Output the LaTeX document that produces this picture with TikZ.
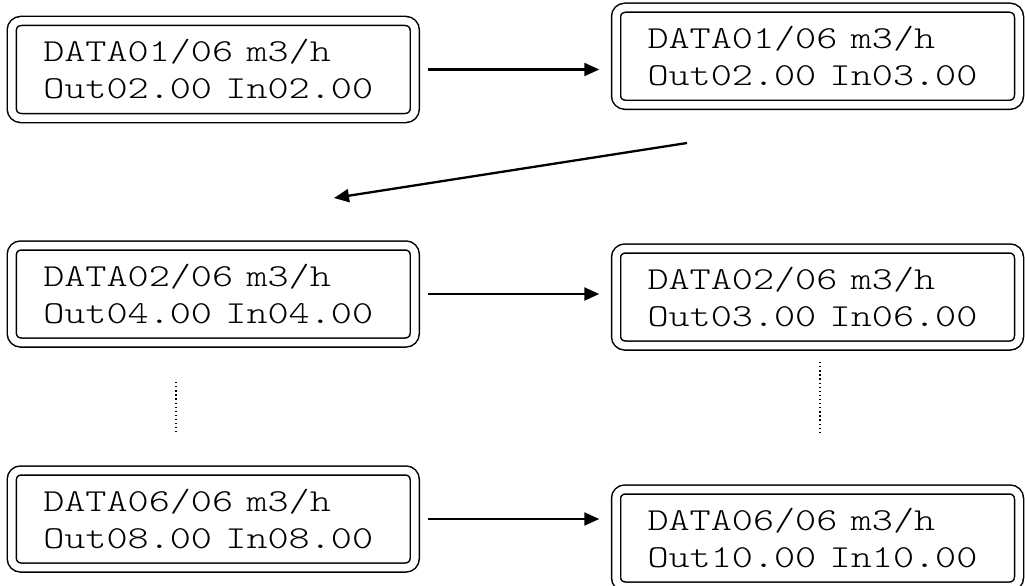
\documentclass[tikz,border=0pt]{standalone}
\usepackage{graphicx}
\usetikzlibrary{arrows.meta}
\newcommand{\lcdline}[1]{\scalebox{1.256}[1]{#1}}
\begin{document}
\begin{tikzpicture}[x=1pt,y=-1pt,
  lcd/.style={draw, line width=1.5pt, double, double distance=7.5pt, rounded corners=9pt,
    minimum height=97pt, text width=340pt, inner xsep=31.5pt, inner ysep=0pt, align=left,
    font=\ttfamily\fontseries{l}\fontsize{32pt}{37pt}\selectfont},
  flow/.style={line width=2.3pt, -{Triangle[length=15pt,width=13pt]}},
  dots/.style={line width=1.3pt, dash pattern=on 1.3pt off 2.8pt}]
\useasboundingbox (0,0) rectangle (1025,586);
\node[lcd] (b1) at (213.25,69.5) {\lcdline{DATA01/06 m3/h}\\\lcdline{Out02.00 In02.00}};
\node[lcd] (b2) at (817.5,56.25) {\lcdline{DATA01/06 m3/h}\\\lcdline{Out02.00 In03.00}};
\node[lcd] (b3) at (213.25,294) {\lcdline{DATA02/06 m3/h}\\\lcdline{Out04.00 In04.00}};
\node[lcd] (b4) at (817.5,297) {\lcdline{DATA02/06 m3/h}\\\lcdline{Out03.00 In06.00}};
\node[lcd] (b5) at (213.25,519) {\lcdline{DATA06/06 m3/h}\\\lcdline{Out08.00 In08.00}};
\node[lcd] (b6) at (817.5,538) {\lcdline{DATA06/06 m3/h}\\\lcdline{Out10.00 In10.00}};
\draw[flow, shorten <=12pt, shorten >=16pt] (b1.east) -- (b1.east -| b2.west);
\draw[flow, shorten <=12pt, shorten >=16pt] (b3.east) -- (b3.east -| b4.west);
\draw[flow, shorten <=12pt, shorten >=16pt] (b5.east) -- (b5.east -| b6.west);
\coordinate (d1) at (687,143);
\coordinate (d2) at (334,198);
\draw[flow] (d1) -- (d2);
\coordinate (l1) at (176,382);
\coordinate (l2) at (176,432);
\draw[dots] (l1) -- (l2);
\coordinate (r1) at (820,362);
\coordinate (r2) at (820,432);
\draw[dots] (r1) -- (r2);
\end{tikzpicture}
\end{document}
